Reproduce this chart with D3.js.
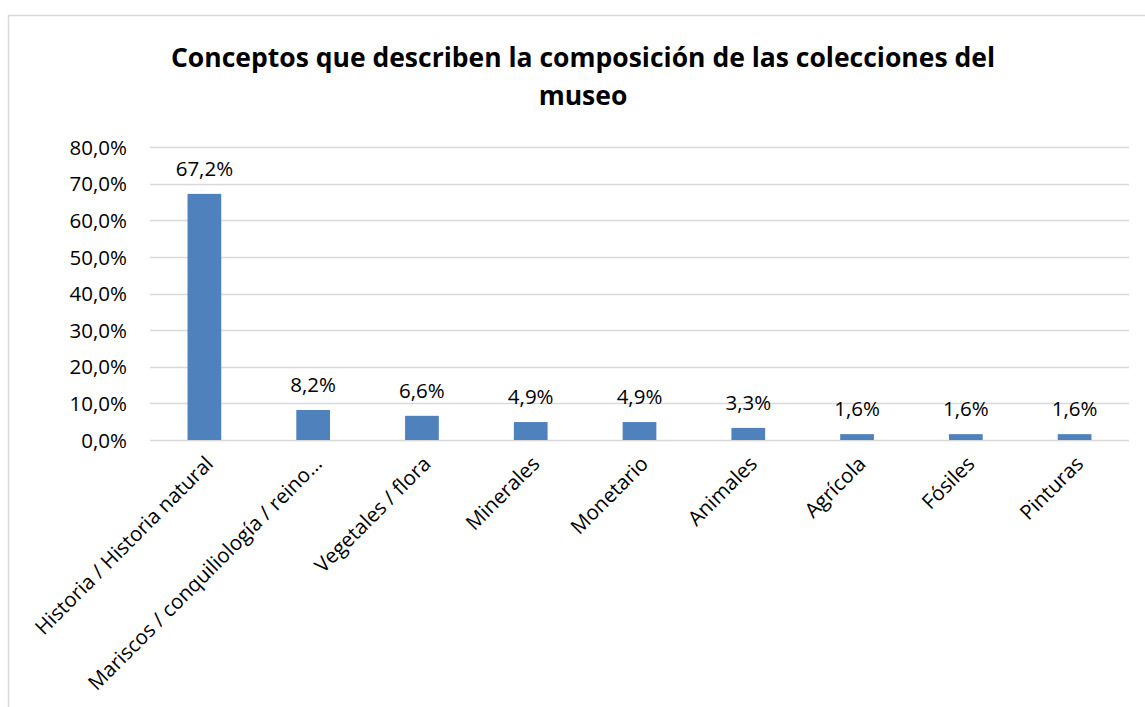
<!DOCTYPE html>
<html>
<head>
<meta charset="utf-8">
<script src="https://cdn.jsdelivr.net/npm/d3@7/dist/d3.min.js"></script>
<style>
  html, body { margin: 0; padding: 0; background: #fff; }
  svg text { font-family: "Open Sans", "Noto Sans", sans-serif; fill: #000; }
</style>
</head>
<body>
<svg id="chart" width="1145" height="707"></svg>
<script>
// Collection concepts and their share of museums
const categories = [
  "Historia / Historia natural",
  "Mariscos / conquiliología / reino…",
  "Vegetales / flora",
  "Minerales",
  "Monetario",
  "Animales",
  "Agrícola",
  "Fósiles",
  "Pinturas"
];
const shares = [67.2, 8.2, 6.6, 4.9, 4.9, 3.3, 1.6, 1.6, 1.6];
const yTicks = [0, 10, 20, 30, 40, 50, 60, 70, 80];
const titleLines = [
  "Conceptos que describen la composición de las colecciones del",
  "museo"
];

const svg = d3.select("#chart");
const fmt = v => d3.format(".1f")(v).replace(".", ",") + "%";
const labelSize = "20.5px";

// chart frame
svg.append("rect")
  .attr("x", 8.5).attr("y", 15.5)
  .attr("width", 1160).attr("height", 720)
  .attr("fill", "#fff").attr("stroke", "#d9d9d9").attr("stroke-width", 1.5);

const plotLeft = 150, plotRight = 1129, plotTop = 147, plotBottom = 440;

const x = d3.scaleBand().domain(categories).range([plotLeft, plotRight]).paddingInner(0.69).paddingOuter(0.345);
const y = d3.scaleLinear().domain([0, 80]).range([plotBottom, plotTop]);

// gridlines
svg.append("g").selectAll("line").data(yTicks).join("line")
  .attr("x1", plotLeft).attr("x2", plotRight)
  .attr("y1", d => Math.round(y(d)) + 0.5).attr("y2", d => Math.round(y(d)) + 0.5)
  .attr("stroke", "#d9d9d9").attr("stroke-width", 1.5);

// y axis labels
const yAxis = d3.axisLeft(y).tickValues(yTicks).tickSize(0).tickPadding(0).tickFormat(fmt);
const yg = svg.append("g").attr("transform", `translate(${plotLeft - 23},0)`).call(yAxis);
yg.select(".domain").remove();
yg.selectAll("text").style("font-size", labelSize).attr("dy", "0.35em")
  .style("font-family", "'Open Sans', sans-serif").attr("fill", "#000");

// bars
svg.append("g").selectAll("rect").data(shares).join("rect")
  .attr("x", (d, i) => x(categories[i]))
  .attr("y", d => y(d))
  .attr("width", x.bandwidth())
  .attr("height", d => y(0) - y(d))
  .attr("fill", "#4f81bd");

// value labels
svg.append("g").selectAll("text").data(shares).join("text")
  .attr("x", (d, i) => x(categories[i]) + x.bandwidth() / 2)
  .attr("y", d => y(d) - 18)
  .attr("text-anchor", "middle")
  .style("font-size", labelSize)
  .text(fmt);

// category labels, rotated
const xAxis = d3.axisBottom(x).tickSize(0).tickPadding(0);
const xg = svg.append("g").attr("transform", `translate(0,${plotBottom})`).call(xAxis);
xg.select(".domain").remove();
xg.selectAll("text")
  .style("font-size", labelSize)
  .style("font-family", "'Open Sans', sans-serif")
  .attr("fill", "#000")
  .attr("text-anchor", "end")
  .attr("dy", "0.35em")
  .attr("transform", "translate(5,20) rotate(-45)");

// title
svg.append("text")
  .attr("x", 583).attr("y", 67)
  .attr("text-anchor", "middle")
  .style("font-size", "26.5px")
  .attr("font-weight", "bold")
  .selectAll("tspan").data(titleLines).join("tspan")
  .attr("x", 583).attr("dy", (d, i) => i === 0 ? 0 : 38)
  .text(d => d);
</script>
</body>
</html>
